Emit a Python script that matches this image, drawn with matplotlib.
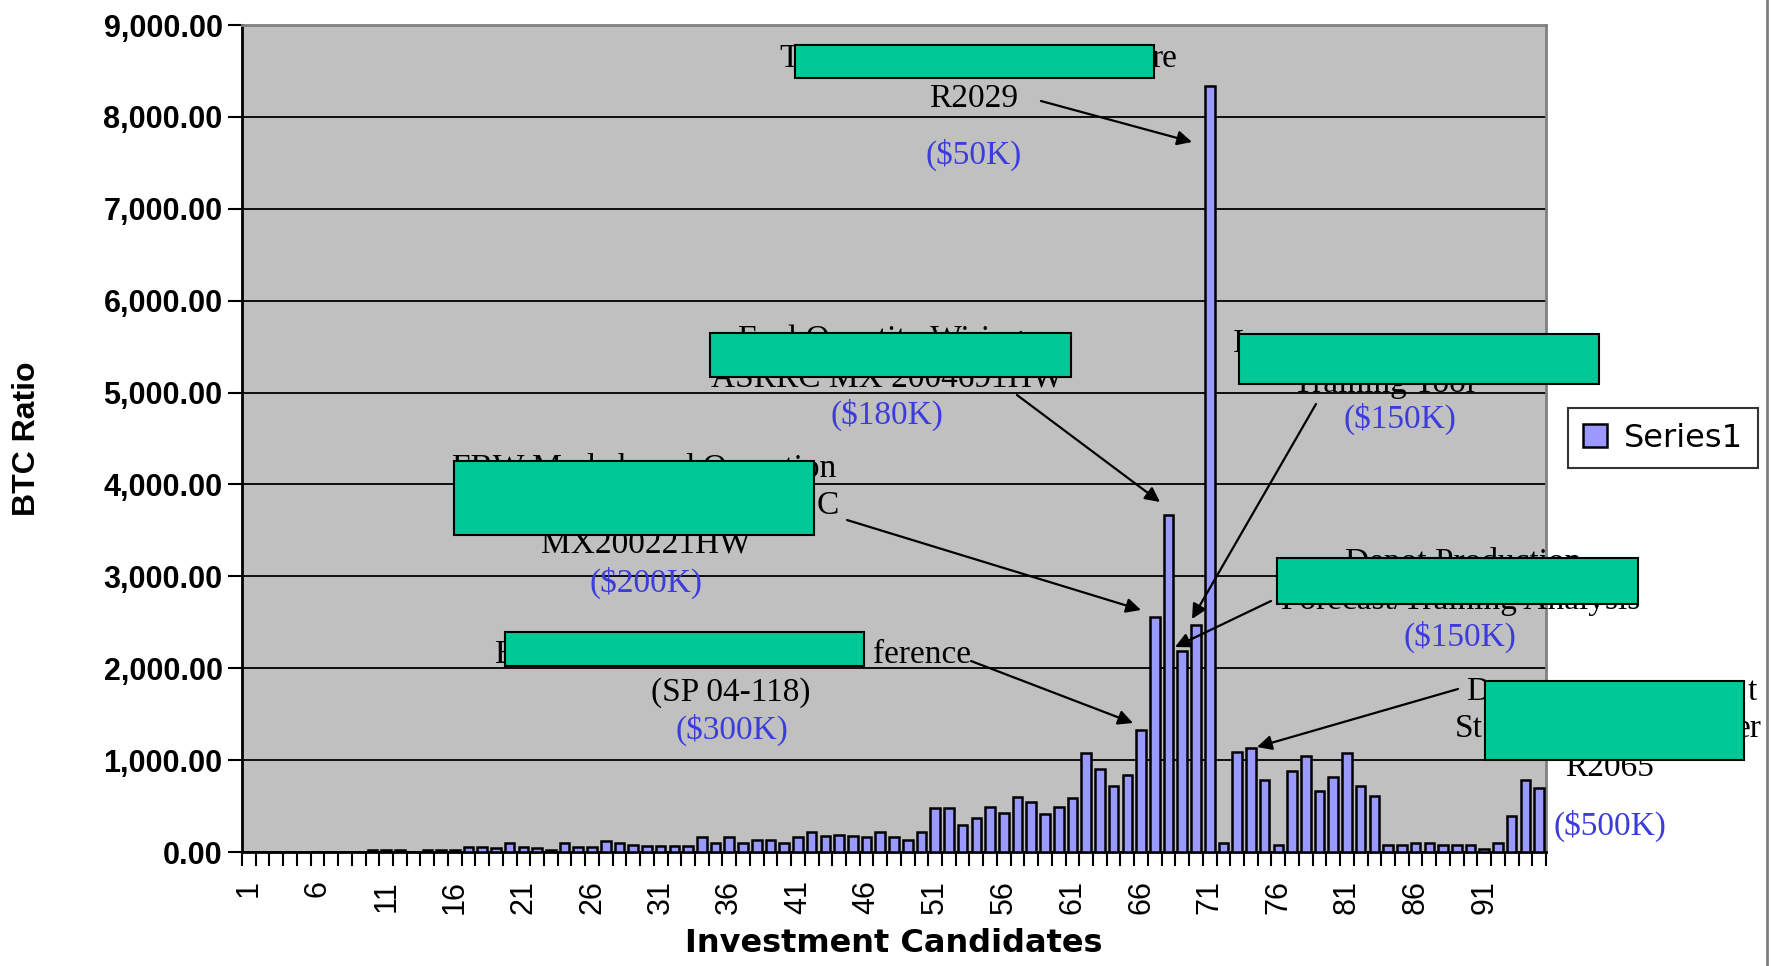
import matplotlib
matplotlib.use("Agg")
import matplotlib.pyplot as plt
from matplotlib.patches import Rectangle
from matplotlib.lines import Line2D
from matplotlib.ticker import FuncFormatter

W, H = 1771, 966

# BTC ratio for each investment candidate (1..95)
candidates = list(range(1, 96))
btc_ratio = [
    0, 0, 0, 0, 0, 0, 0, 0, 0,
    20, 20, 20, 0, 20, 20, 20,
    50, 50, 45, 96, 50, 40, 20, 96, 55, 55, 115, 96, 80, 67,
    67, 67, 67, 168, 100, 168, 100, 130, 130, 100,
    168, 213, 175, 187, 175, 168, 213, 168, 130, 213,
    478, 478, 298, 366, 485, 420, 600, 540, 411, 490,
    583, 1074, 902, 718, 840, 1331, 2558, 3669, 2190, 2472,
    8331, 100, 1090, 1130, 780, 77, 878, 1050, 660, 815,
    1077, 723, 612, 77, 77, 103, 103, 77, 77, 77,
    33, 103, 391, 786, 697,
]
label_positions = list(range(1, 96, 5))
y_ticks = list(range(0, 9001, 1000))

BAR = "#9999FF"
PLOT_BG = "#C0C0C0"
NOTE_BLUE = "#3C3CDC"
BOX_GREEN = "#00C997"


def px(x, y):
    # pixel position (from top-left) -> figure fraction
    return x / W, 1 - y / H


fig = plt.figure(figsize=(W / 100, H / 100), dpi=100)
ax = fig.add_axes([242 / W, 1 - 852 / H, (1546 - 242) / W, (852 - 25) / H])
ax.set_facecolor(PLOT_BG)

bars = ax.bar(candidates, btc_ratio, width=0.7, color=BAR,
              edgecolor="black", linewidth=1.8, zorder=3, label="Series1")

ax.set_xlim(0.5, 95.5)
ax.set_ylim(0, 9000)
ax.set_yticks(y_ticks)
ax.yaxis.set_major_formatter(FuncFormatter(lambda v, _: f"{v:,.2f}"))
ax.yaxis.grid(True, color="black", linewidth=1.3, zorder=1)

ax.set_xticks(label_positions)
ax.set_xticklabels([str(p) for p in label_positions], rotation=90,
                   fontsize=22, family="Liberation Sans")
ax.set_xticks([i + 0.5 for i in range(0, 96)], minor=True)
ax.tick_params(axis="x", which="major", length=0, pad=20)
ax.tick_params(axis="x", which="minor", length=10, width=1.5, direction="out")
ax.tick_params(axis="y", length=10, width=1.5, pad=4)
for lab in ax.get_yticklabels():
    lab.set_fontsize(22)
    lab.set_fontweight("bold")
    lab.set_family("Liberation Sans")

for s in ("left", "bottom"):
    ax.spines[s].set_color("black")
    ax.spines[s].set_linewidth(2)
for s in ("top", "right"):
    ax.spines[s].set_color("#808080")
    ax.spines[s].set_linewidth(2)

ax.set_ylabel("BTC Ratio", fontsize=23, fontweight="bold", family="Liberation Sans")
ax.yaxis.set_label_coords((42 - 242) / 1304, 0.5)
ax.set_xlabel("Investment Candidates", fontsize=23, fontweight="bold", family="DejaVu Sans")
ax.xaxis.set_label_coords(0.5, (852 - 928) / 827)

leg = fig.legend(handles=[bars], labels=["Series1"], loc="center",
                 bbox_to_anchor=(px(1663, 438)), frameon=True,
                 fancybox=False, handlelength=0.75, handleheight=0.75,
                 handletextpad=0.55, borderpad=0.45, borderaxespad=0,
                 prop={"family": "DejaVu Sans", "size": 23})
leg.get_frame().set_edgecolor("black")
leg.get_frame().set_linewidth(1.5)

# outer chart border on the right
fig.add_artist(Line2D([1767 / W, 1767 / W], [0, 1], color="#808080", linewidth=2))


def note(text, x, y, color="black", ha="center"):
    fig.text(*px(x, y), text, ha=ha, va="center", fontsize=24,
             family="Liberation Serif", color=color, zorder=3)


def arrow(x0, y0, x1, y1):
    ax.annotate("", xy=px(x1, y1), xycoords="figure fraction",
                xytext=px(x0, y0), textcoords="figure fraction",
                annotation_clip=False, zorder=4,
                arrowprops=dict(arrowstyle="-|>", color="black", lw=1.6,
                                mutation_scale=22, shrinkA=0, shrinkB=0))


def cover(x0, y0, x1, y1):
    fig.add_artist(Rectangle(px(x0, y1), (x1 - x0) / W, (y1 - y0) / H,
                             transform=fig.transFigure, facecolor=BOX_GREEN,
                             edgecolor="black", linewidth=1.5, zorder=6))


# candidate 71
note("T", 779, 59, ha="left")
note("re", 1177, 59, ha="right")
note("R2029", 974, 99)
note("($50K)", 974, 155, NOTE_BLUE)
arrow(1041, 101, 1192, 142)
cover(795, 45, 1154, 78)

# candidate 68
note("Fuel Quantity Wiring", 881, 340)
note("ASRRC MX 2004691HW", 887, 378)
note("($180K)", 887, 415, NOTE_BLUE)
arrow(1017, 395, 1160, 502)
cover(710, 333, 1071, 377)

# candidate 67
note("FBW Mode based Operation", 644, 468)
note("C", 839, 506, ha="right")
note("MX200221HW", 646, 544)
note("($200K)", 646, 583, NOTE_BLUE)
arrow(847, 520, 1141, 610)
cover(454, 461, 814, 535)

# candidate 66
note("E", 494, 655, ha="left")
note("ference", 971, 655, ha="right")
note("(SP 04-118)", 731, 693)
note("($300K)", 732, 730, NOTE_BLUE)
arrow(971, 661, 1133, 723)
cover(505, 632, 864, 666)

# candidate 70
note("I", 1233, 344, ha="left")
note("Training Tool", 1384, 384)
note("($150K)", 1400, 419, NOTE_BLUE)
arrow(1316, 404, 1192, 619)
cover(1239, 334, 1599, 384)

# candidate 69
note("Depot Production", 1463, 562)
note("Forecast/Training Analysis", 1461, 601)
note("($150K)", 1460, 637, NOTE_BLUE)
arrow(1271, 601, 1175, 647)
cover(1277, 558, 1638, 604)

# candidate 74
note("D", 1466, 692, ha="left")
note("t", 1757, 692, ha="right")
note("St", 1455, 729, ha="left")
note("er", 1762, 729, ha="right")
note("R2065", 1610, 768)
note("($500K)", 1610, 826, NOTE_BLUE)
arrow(1458, 689, 1257, 747)
cover(1485, 681, 1744, 760)

fig.savefig("out.png", dpi=100)
